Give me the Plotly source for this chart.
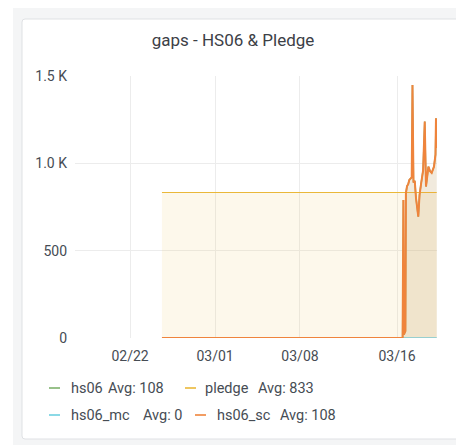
import plotly.graph_objects as go

# page has an 8px body margin, so the figure is a bit smaller than the window
OFF = 8
W, H = 464 - OFF, 445 - OFF
# plot box in window pixels
L, R, T, B = 75, 437, 76, 338

# ---- data ----
sc_times = ["2021-02-24 15:00", "2021-03-16 11:00", "2021-03-16 12:30", "2021-03-16 13:30",
            "2021-03-16 16:30", "2021-03-16 17:30", "2021-03-16 19:45", "2021-03-16 22:00",
            "2021-03-17 00:15", "2021-03-17 05:00", "2021-03-17 06:30", "2021-03-17 08:30",
            "2021-03-17 11:00", "2021-03-17 13:30", "2021-03-17 18:00", "2021-03-17 20:30",
            "2021-03-17 23:30", "2021-03-18 03:30", "2021-03-18 06:45", "2021-03-18 09:15",
            "2021-03-18 14:00", "2021-03-18 17:15", "2021-03-18 20:30", "2021-03-19 01:00",
            "2021-03-19 04:00", "2021-03-19 05:00", "2021-03-19 06:30"]
hs06_sc = [0, 0, 790, 20, 40, 830, 870, 880, 905, 920, 1449, 890, 900, 800, 695, 820,
           883, 960, 1239, 867, 981, 955, 945, 981, 1050, 1258, 1088]
hs06 = [0, 0, 790, 20, 40, 830, 870, 880, 905, 920, 1449, 890, 900, 800, 695, 820,
        883, 960, 1239, 867, 981, 955, 945, 981, 1050, 1258, 1088]

flat_times = ["2021-02-24 15:00", "2021-03-19 06:30"]
pledge = [833, 833]
hs06_mc = [0, 0]

x_ticks = ["2021-02-22", "2021-03-01", "2021-03-08", "2021-03-16"]
x_labels = ["02/22", "03/01", "03/08", "03/16"]
y_ticks = [0, 500, 1000, 1500]
y_labels = ["0", "500", "1.0 K", "1.5 K"]

legend_names = ["hs06", "pledge", "hs06_mc", "hs06_sc"]
legend_avgs = ["Avg: 108", "Avg: 833", "Avg: 0", "Avg: 108"]
colors = ["#7EB26D", "#EAB839", "#6ED0E0", "#EF843C"]
fills = ["rgba(126,178,109,0.1)", "rgba(234,184,57,0.1)",
         "rgba(110,208,224,0.1)", "rgba(239,132,60,0.1)"]

TXT = "#464c54"
FONT = "Roboto"


def px(x):
    return (x - L) / (R - L)


def py(y):
    return (B - y) / (B - T)


fig = go.Figure()
series = [(sc_times, hs06, 1.5), (flat_times, pledge, 1.2),
          (flat_times, hs06_mc, 1.5), (sc_times, hs06_sc, 2)]
for (t, v, lw), name, c, f in zip(series, legend_names, colors, fills):
    fig.add_trace(go.Scatter(x=t, y=v, name=name, mode="lines",
                             line=dict(color=c, width=lw),
                             fill="tozeroy", fillcolor=f, showlegend=False))

# background + panel
shapes = [
    dict(type="rect", xref="paper", yref="paper", layer="below",
         x0=px(13), x1=px(480), y0=py(OFF), y1=py(460),
         fillcolor="#f4f5f6", line_width=0),
]
r = 3
x0, x1, y0, y1 = 22, 480, 19, 439
path = (f"M {px(x0 + r)},{py(y0)} L {px(x1)},{py(y0)} L {px(x1)},{py(y1)} "
        f"L {px(x0 + r)},{py(y1)} Q {px(x0)},{py(y1)} {px(x0)},{py(y1 - r)} "
        f"L {px(x0)},{py(y0 + r)} Q {px(x0)},{py(y0)} {px(x0 + r)},{py(y0)} Z")
shapes.append(dict(type="path", path=path, xref="paper", yref="paper", layer="below",
                   fillcolor="white", line=dict(color="#dfe1e4", width=1)))

# legend (two rows, grafana style)
leg_pos = [(49, 71, 108, 388), (185, 205, 258, 388),
           (49, 71, 143, 415), (195, 217, 280, 415)]
annotations = []
for (dx, nx, ax, ry), name, avg, c in zip(leg_pos, legend_names, legend_avgs, colors):
    shapes.append(dict(type="line", xref="paper", yref="paper",
                       x0=px(dx), x1=px(dx + 11), y0=py(ry), y1=py(ry),
                       line=dict(color=c, width=1.6)))
    for tx, s in ((nx, name), (ax, avg)):
        annotations.append(dict(x=px(tx), y=py(ry), xref="paper", yref="paper",
                                text=s, showarrow=False, xanchor="left", yanchor="middle",
                                xshift=-2, font=dict(family=FONT, size=14.5, color=TXT)))

fig.update_layout(
    width=W, height=H,
    margin=dict(l=L - OFF, r=W + OFF - R, t=T - OFF, b=H + OFF - B),
    paper_bgcolor="white", plot_bgcolor="rgba(0,0,0,0)",
    title=dict(text="gaps - HS06 & Pledge", x=(233 - OFF) / W, xanchor="center",
               y=1 - (40 - OFF) / H, yanchor="middle",
               font=dict(family=FONT, size=17, color="#3c4046")),
    shapes=shapes, annotations=annotations,
    xaxis=dict(type="date", range=["2021-02-17 11:00", "2021-03-19 07:00"],
               tickvals=x_ticks, ticktext=x_labels, showgrid=True,
               gridcolor="#ececec", gridwidth=1, zeroline=False, showline=False,
               ticks="", ticklabelstandoff=8,
               tickfont=dict(family=FONT, size=14, color=TXT)),
    yaxis=dict(range=[0, 1500], tickvals=y_ticks, ticktext=y_labels,
               showgrid=True, gridcolor="#ececec", gridwidth=1, zeroline=False,
               showline=False, ticks="", ticklabelstandoff=7,
               tickfont=dict(family=FONT, size=14, color=TXT)),
)

fig.write_html("out.html")
